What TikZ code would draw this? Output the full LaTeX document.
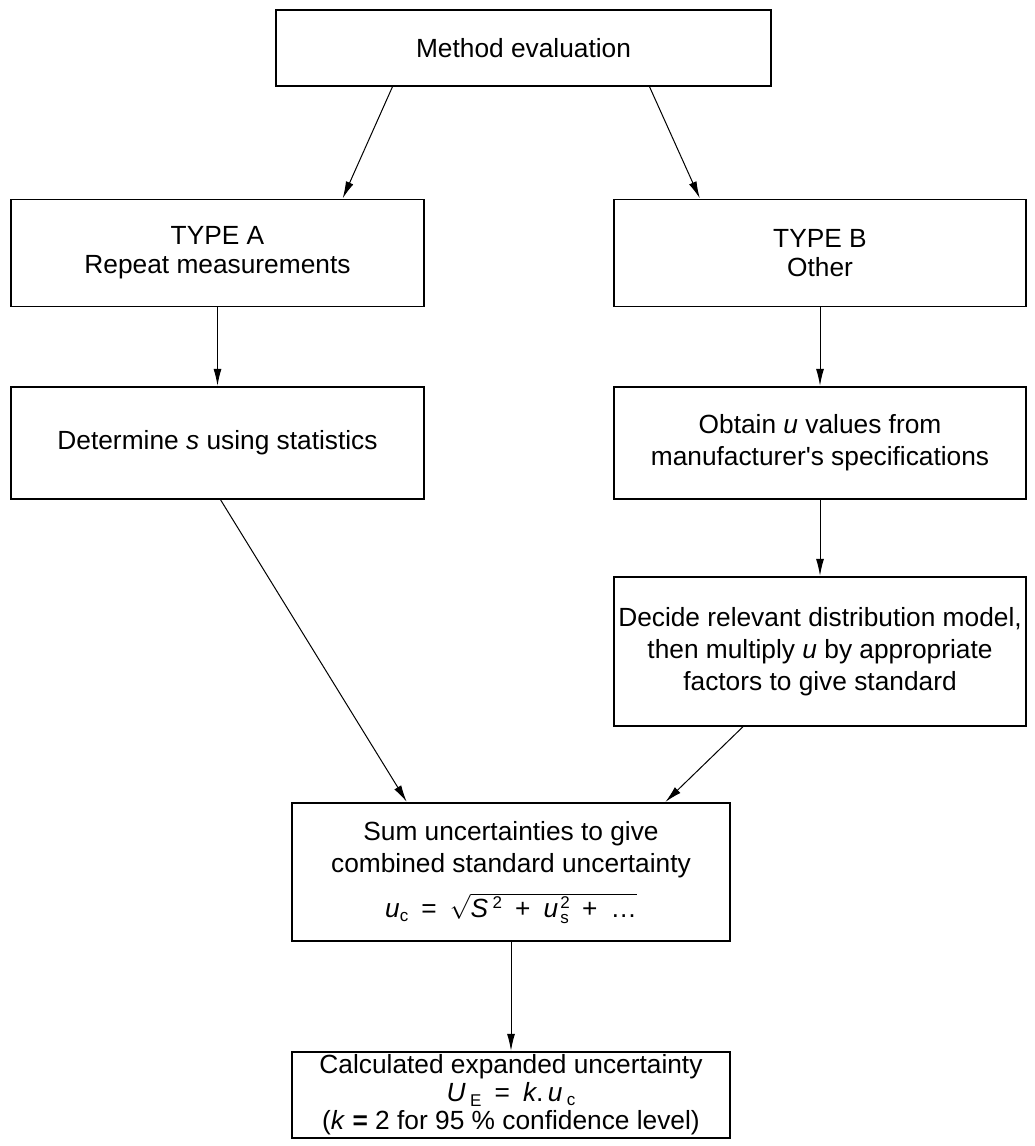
\documentclass[tikz,border=0pt]{standalone}
\usepackage{exscale}
\usepackage{fontspec}
\setmainfont{Liberation Sans}
\usetikzlibrary{arrows.meta,calc}
\newcommand\myidx{\fontsize{17}{17}\selectfont}
\tikzset{
  fbox/.style={draw, line width=1.4pt, inner sep=0pt, align=center,
    font=\fontsize{26.3}{32}\selectfont},
  conn/.style={line width=1pt, -{Latex[length=17pt,width=8pt]}, shorten >=0.5pt}
}
\begin{document}
\begin{tikzpicture}[x=1pt,y=-1pt]
\useasboundingbox (0,0) rectangle (1034,1146);
\node[fbox, minimum width=495pt, minimum height=76pt] (me) at (523.5,48) {Method evaluation};
\node[fbox, minimum width=413pt, minimum height=107pt] (ta) at (217.5,253) {TYPE A\\[-3pt]Repeat measurements};
\node[fbox, minimum width=412pt, minimum height=107pt] (tb) at (820,253) {TYPE B\\[-3pt]Other};
\node[fbox, minimum width=413pt, minimum height=112pt] (ds) at (217.5,443) {Determine \textit{s} using statistics};
\node[fbox, minimum width=412pt, minimum height=112pt] (ou) at (820,443) {Obtain \textit{u} values from\\manufacturer\textquotesingle s specifications};
\node[fbox, minimum width=412pt, minimum height=149pt] (dr) at (820,651.5) {Decide relevant distribution model,\\then multiply \textit{u} by appropriate\\factors to give standard};
\node[fbox, minimum width=438pt, minimum height=138pt] (su) at (511,872) {Sum uncertainties to give\\combined standard uncertainty\\[13pt]
  \textit{u}\raisebox{-4pt}{\myidx c}\enspace=\enspace$\sqrt{\mbox{\rule{0pt}{21pt}\textit{S}\,\smash{\raisebox{9pt}{\myidx 2}}\enspace+\enspace\textit{u}\kern2pt\rlap{\smash{\raisebox{9pt}{\myidx 2}}}\smash{\raisebox{-6pt}{\myidx s}}\enspace+\enspace\dots}}$};
\node[fbox, minimum width=438pt, minimum height=86pt, font=\fontsize{26.3}{28}\selectfont] (ca) at (511,1095) {Calculated expanded uncertainty\\
  \textit{U}\,\raisebox{-5pt}{\myidx E}\enspace=\enspace\textit{k}.\,\textit{u}\,\raisebox{-4pt}{\myidx c}\\
  (\textit{k} \textbf{=} 2 for 95 \% confidence level)};
\draw[conn] ($(me.south)+(-131,0)$) -- ($(ta.north)+(125,0)$);
\draw[conn] ($(me.south)+(126,0)$) -- ($(tb.north)+(-120,0)$);
\draw[conn] (ta.south) -- (ds.north);
\draw[conn] (tb.south) -- (ou.north);
\draw[conn] (ou.south) -- (dr.north);
\draw[conn] ($(ds.south)+(3,0)$) -- ($(su.north)+(-104,0)$);
\draw[conn] ($(dr.south)+(-77,0)$) -- ($(su.north)+(154,0)$);
\draw[conn] (su.south) -- (ca.north);
\end{tikzpicture}
\end{document}
